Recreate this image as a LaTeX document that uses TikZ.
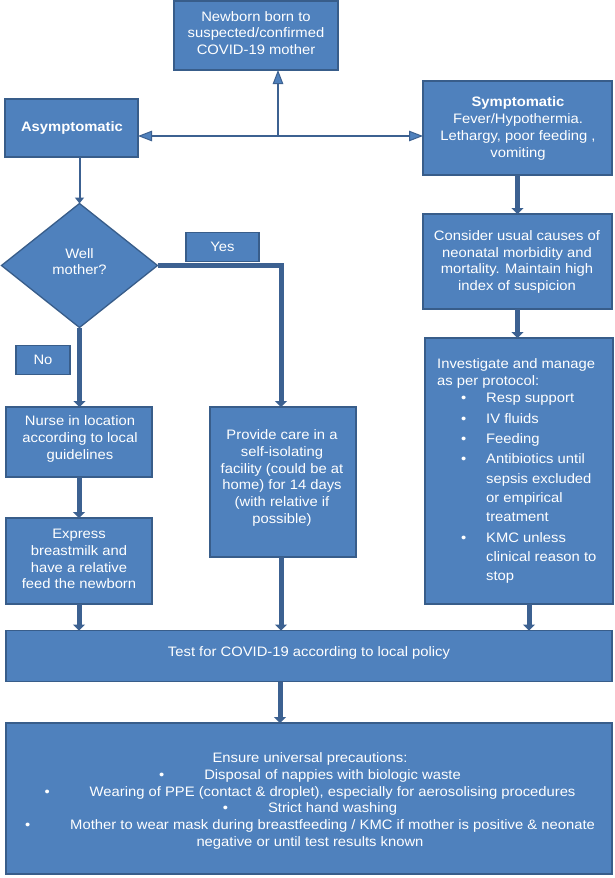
\documentclass[tikz,border=0pt]{standalone}
\usepackage{fontspec}
\setmainfont{Liberation Sans}[FakeStretch=1.08]
\usetikzlibrary{arrows.meta,shapes.geometric}
\definecolor{boxfill}{HTML}{4F81BD}
\definecolor{boxedge}{HTML}{385D8A}
\definecolor{linec}{HTML}{3C6191}
\begin{document}
\begin{tikzpicture}[x=1pt,y=-1pt,
  box/.style={draw=boxedge, line width=1.3pt, fill=boxfill, inner sep=0pt, outer sep=0pt},
  txt/.style={text=white, font=\fontsize{13.7}{16.8}\selectfont, align=center, inner sep=0pt},
  ltxt/.style={text=white, font=\fontsize{13.7}{16.8}\selectfont, inner sep=0pt, anchor=base west},
  thinarrow/.style={draw=linec, line width=2pt, -{Triangle[length=14pt,width=10.5pt,fill=boxfill,line width=1pt]}},
  dblarrow/.style={draw=linec, line width=2pt, {Triangle[length=14pt,width=10.5pt,fill=boxfill,line width=1pt]}-{Triangle[length=14pt,width=10.5pt,fill=boxfill,line width=1pt]}},
  smallarrow/.style={draw=linec, line width=2pt, -{Triangle[length=6pt,width=9pt]}},
  thickarrow/.style={draw=linec, line width=5pt, line join=miter, -{Triangle[length=6pt,width=12pt]}}]
\useasboundingbox (0,0) rectangle (614,878);
\fill[white] (0,0) rectangle (614,878);

% boxes
\node[box, minimum width=164pt, minimum height=69pt] (newborn) at (256,35.5) {};
\node[box, minimum width=133pt, minimum height=58pt] (asym) at (71.5,128) {};
\node[box, minimum width=189pt, minimum height=94pt] (symp) at (517.5,128) {};
\node[box, diamond, minimum width=156pt, minimum height=124pt] (well) at (79.5,265.5) {};
\node[box, minimum width=73pt, minimum height=29pt] (yes) at (222.5,247) {};
\node[box, minimum width=54pt, minimum height=29pt] (no) at (43,360) {};
\node[box, minimum width=146pt, minimum height=70pt] (nurse) at (79,442) {};
\node[box, minimum width=146pt, minimum height=86pt] (express) at (79,561) {};
\node[box, minimum width=146pt, minimum height=150pt] (provide) at (283,482) {};
\node[box, minimum width=189pt, minimum height=95pt] (consider) at (517.5,261.5) {};
\node[box, minimum width=188pt, minimum height=266pt] (inv) at (519,471) {};
\node[box, minimum width=606pt, minimum height=51pt] (test) at (309,656) {};
\node[box, minimum width=606pt, minimum height=151pt] (ensure) at (309,798.5) {};

% texts
\node[txt] (newbornT) at (256,33) {Newborn born to\\suspected/confirmed\\COVID-19 mother};
\node[txt, font=\fontsize{13.7}{16.8}\selectfont\bfseries] (asymT) at (72,127.5) {Asymptomatic};
\node[txt] (sympT) at (518,128.5) {\textbf{Symptomatic}\\Fever/Hypothermia.\\Lethargy, poor feeding ,\\vomiting};
\node[txt] (wellT) at (79.5,261.5) {Well\\mother?};
\node[txt] (yesT) at (222.5,246.5) {Yes};
\node[txt] (noT) at (43,359.5) {No};
\node[txt] (nurseT) at (80,439) {Nurse in location\\according to local\\guidelines};
\node[txt] (expressT) at (79,559) {Express\\breastmilk and\\have a relative\\feed the newborn};
\node[txt] (provideT) at (282,478) {Provide care in a\\self-isolating\\facility (could be at\\home) for 14 days\\(with relative if\\possible)};
\node[txt] (considerT) at (517,262) {Consider usual causes of\\neonatal morbidity and\\mortality. Maintain high\\index of suspicion};
\node[txt] (testT) at (309,653) {Test for COVID-19 according to local policy};
\node[txt] (ensureT) at (310,801) {Ensure universal precautions:\\
\textbullet\hspace{40pt}Disposal of nappies with biologic waste\\
\textbullet\hspace{40pt}Wearing of PPE (contact \& droplet), especially for aerosolising procedures\\
\textbullet\hspace{40pt}Strict hand washing\\
\textbullet\hspace{40pt}Mother to wear mask during breastfeeding / KMC if mother is positive \& neonate\\
negative or until test results known};

% investigate list
\node[ltxt] (inv1) at (437,368.5) {Investigate and manage};
\node[ltxt] (inv2) at (437,385.5) {as per protocol:};
\node[ltxt] (b1) at (461,402.5) {\textbullet};
\node[ltxt] (i1) at (486,402.5) {Resp support};
\node[ltxt] (b2) at (461,423.5) {\textbullet};
\node[ltxt] (i2) at (486,423.5) {IV fluids};
\node[ltxt] (b3) at (461,443.5) {\textbullet};
\node[ltxt] (i3) at (486,443.5) {Feeding};
\node[ltxt] (b4) at (461,463.5) {\textbullet};
\node[ltxt] (i4a) at (486,463.5) {Antibiotics until};
\node[ltxt] (i4b) at (486,483.5) {sepsis excluded};
\node[ltxt] (i4c) at (486,502.5) {or empirical};
\node[ltxt] (i4d) at (486,521.5) {treatment};
\node[ltxt] (b5) at (461,542.5) {\textbullet};
\node[ltxt] (i5a) at (486,542.5) {KMC unless};
\node[ltxt] (i5b) at (486,561.5) {clinical reason to};
\node[ltxt] (i5c) at (486,580.5) {stop};

% connectors
\coordinate (junc) at (278,136);
\draw[dblarrow] ([yshift=-8pt]asym.east) -- ([yshift=-8pt]symp.west);
\draw[thinarrow] (junc) -- (junc |- newborn.south);
\draw[smallarrow] (asym.south -| well.north) -- (well.north);
\draw[thickarrow] (well.east) -| ([xshift=-2pt]provide.north);
\draw[thickarrow] (well.south) -- (well.south |- nurse.north);
\draw[thickarrow] (nurse.south) -- (express.north);
\draw[thickarrow] (express.south) -- (express.south |- test.north);
\draw[thickarrow] ([xshift=-2pt]provide.south) -- ([xshift=-2pt]provide.south |- test.north);
\draw[thickarrow] ([xshift=10pt]inv.south) -- ([xshift=10pt]inv.south |- test.north);
\draw[thickarrow] (symp.south) -- (consider.north);
\draw[thickarrow] (consider.south) -- (consider.south |- inv.north);
\draw[thickarrow] ([xshift=-29pt]test.south) -- ([xshift=-29pt]test.south |- ensure.north);
\end{tikzpicture}
\end{document}
